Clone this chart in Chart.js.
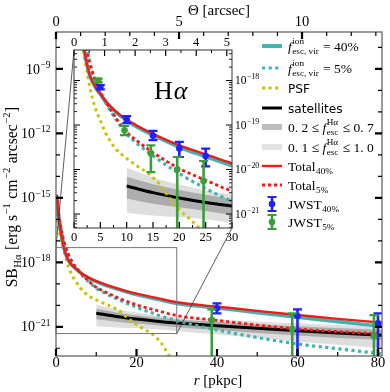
<!DOCTYPE html>
<html>
<head>
<meta charset="utf-8">
<script src="https://cdn.jsdelivr.net/npm/chart.js@4.4.1/dist/chart.umd.min.js"></script>
<style>
html,body{margin:0;padding:0;background:#fff;overflow:hidden;}
#wrap{position:relative;width:390px;height:392px;background:#fff;}
canvas{position:absolute;}
</style>
</head>
<body>
<div id="wrap">
<canvas id="mainCanvas" width="390" height="392"></canvas>
<canvas id="insetCanvas" width="200" height="220"></canvas>
</div>
<script>
// ---------------- data (SB in erg s^-1 cm^-2 arcsec^-2, r in pkpc) ----------------
const rGrid      = [0.15, 0.3, 0.6, 1, 1.5, 2, 2.5, 3, 4, 5, 6, 8, 10, 12, 15, 20, 25, 30, 40, 50, 60, 70, 81];
const sbTotal40  = [1.26e-15, 7.94e-16, 1.58e-16, 4.47e-17, 1.26e-17, 4.47e-18, 2.24e-18, 1.32e-18, 7.4e-19, 5.0e-19, 3.47e-19, 2.0e-19, 1.32e-19, 9.55e-20, 6.3e-20, 3.47e-20, 2.19e-20, 1.38e-20, 8.7e-21, 5.5e-21, 3.55e-21, 2.34e-21, 1.55e-21];
const sbTotal5   = [1.41e-15, 8.9e-16, 2.24e-16, 7.1e-17, 2.24e-17, 8.9e-18, 4.47e-18, 2.51e-18, 1.05e-18, 5.6e-19, 3.39e-19, 1.41e-19, 6.9e-20, 4.37e-20, 2.4e-20, 1.05e-20, 5.75e-21, 3.31e-21, 2.0e-21, 1.2e-21, 7.9e-22, 6.0e-22, 4.57e-22];
const sbEsc40    = [1.23e-15, 7.8e-16, 1.55e-16, 4.4e-17, 1.23e-17, 4.37e-18, 2.19e-18, 1.29e-18, 7.2e-19, 4.9e-19, 3.31e-19, 1.91e-19, 1.26e-19, 8.9e-20, 5.9e-20, 3.16e-20, 1.95e-20, 1.23e-20, 7.6e-21, 4.57e-21, 2.82e-21, 1.74e-21, 1.05e-21];
const sbEsc5     = [1.38e-15, 8.7e-16, 2.19e-16, 6.9e-17, 2.19e-17, 8.7e-18, 4.37e-18, 2.4e-18, 1.0e-18, 5.25e-19, 3.16e-19, 1.32e-19, 6.3e-20, 3.8e-20, 2.04e-20, 8.1e-21, 3.72e-21, 1.91e-21, 7.1e-22, 3.16e-22, 1.58e-22, 9.5e-23, 5.5e-23];

const psfR  = [0.15, 0.3, 0.6, 1, 1.5, 2, 2.5, 3, 4, 5, 6, 7, 8, 10, 12, 14, 16, 18, 20, 22, 24, 26, 28, 29];
const sbPSF = [2.0e-16, 1.0e-16, 3.98e-17, 1.78e-17, 7.1e-18, 3.16e-18, 1.51e-18, 7.1e-19, 2.51e-19, 1.26e-19, 6.6e-20, 4.17e-20, 2.82e-20, 1.78e-20, 1.2e-20, 8.3e-21, 5.0e-21, 2.4e-21, 1.26e-21, 7.6e-22, 4.47e-22, 1.91e-22, 5.0e-23, 2.51e-23];

const satR        = [10, 15, 20, 25, 30, 40, 50, 60, 70, 81];
const sbSat       = [4.27e-21, 3.02e-21, 2.29e-21, 1.82e-21, 1.51e-21, 1.12e-21, 8.5e-22, 6.6e-22, 5.1e-22, 4.07e-22];
const sbBand27Hi  = [6.9e-21, 4.68e-21, 3.47e-21, 2.69e-21, 2.19e-21, 1.7e-21, 1.32e-21, 1.07e-21, 8.7e-22, 7.1e-22];
const sbBand27Lo  = [2.24e-21, 1.7e-21, 1.41e-21, 1.17e-21, 9.5e-22, 7.1e-22, 5.1e-22, 3.89e-22, 3.02e-22, 2.4e-22];
const sbBand110Hi = [1.1e-20, 6.6e-21, 4.57e-21, 3.39e-21, 2.75e-21, 2.19e-21, 1.78e-21, 1.45e-21, 1.2e-21, 1.0e-21];
const sbBand110Lo = [1.07e-21, 9.3e-22, 8.5e-22, 7.6e-22, 6.3e-22, 4.37e-22, 3.02e-22, 2.09e-22, 1.45e-22, 1.0e-22];

// JWST mock points (inner radii shown in the inset, outer radii in the main panel)
const jwst40InR  = [5, 10, 15, 20, 25];
const jwst40InC  = [7.1e-19, 1.32e-19, 5.75e-20, 2.95e-20, 2.0e-20];
const jwst40InHi = [7.9e-19, 1.58e-19, 7.4e-20, 4.17e-20, 2.95e-20];
const jwst40InLo = [6.3e-19, 1.1e-19, 4.57e-20, 1.91e-20, 1.17e-20];
const jwst5InR   = [4.6, 9.6, 14.6, 19.6, 24.6];
const jwst5InC   = [1.0e-18, 7.6e-20, 2.29e-20, 1.0e-20, 5.5e-21];
const jwst5InHi  = [1.1e-18, 9.5e-20, 3.47e-20, 1.91e-20, 1.55e-20];
const jwst5InLo  = [9.1e-19, 5.9e-20, 8.7e-21, 1e-24, 1e-24];
const jwst40OutR  = [40, 60, 80];
const jwst40OutC  = [7.2e-21, 3.16e-21, 1.45e-21];
const jwst40OutHi = [1.23e-20, 6.5e-21, 4.17e-21];
const jwst40OutLo = [4.17e-21, 1e-24, 1e-24];
const jwst5OutR   = [38.7, 58.7, 79];
const jwst5OutC   = [2.04e-21, 7.6e-22, 3.72e-22];
const jwst5OutHi  = [6.5e-21, 4.17e-21, 3.47e-21];
const jwst5OutLo  = [1e-24, 1e-24, 1e-24];

// axes / tick labels
const mainRRange = [0, 81];
const mainThetaRange = [0, 13.25];
const mainSBRange = [Math.pow(10, -22.36), Math.pow(10, -7.28)];
const mainRTicks = [0, 20, 40, 60, 80];
const mainRMinor = [10, 30, 50, 70];
const mainThetaTicks = [0, 5, 10];
const mainThetaMinor = [1, 2, 3, 4, 6, 7, 8, 9, 11, 12, 13];
const mainSBTicks = [1e-9, 1e-12, 1e-15, 1e-18, 1e-21];
const mainSBMinor = [1e-8, 1e-10, 1e-11, 1e-13, 1e-14, 1e-16, 1e-17, 1e-19, 1e-20, 1e-22];

const insetRRange = [0, 30];
const insetThetaRange = [0, 5.17];
const insetSBRange = [Math.pow(10, -21.315), Math.pow(10, -17.315)];
const insetRTicks = [0, 5, 10, 15, 20, 25, 30];
const insetRMinor = [2.5, 7.5, 12.5, 17.5, 22.5, 27.5];
const insetThetaTicks = [0, 1, 2, 3, 4, 5];
const insetThetaMinor = [0.5, 1.5, 2.5, 3.5, 4.5];
const insetSBTicks = [1e-18, 1e-19, 1e-20, 1e-21];

// ---------------- styling ----------------
const SERIF = '"Liberation Serif", "Times New Roman", serif';
const SANS = '"DejaVu Sans", sans-serif';
const RED = '#f21a1a', CYAN = '#43b3b0', YEL = '#c8c400', BLUE = '#1f1fff', GREEN = '#3a9e3a';
const DARK = '#adadad', LIGHT = '#dedede';
const INSET_LEFT = 60, INSET_TOP = 30;

const insetCanvas = document.getElementById('insetCanvas');
insetCanvas.style.left = INSET_LEFT + 'px';
insetCanvas.style.top = INSET_TOP + 'px';

const insetSBMinor = [];
for (let e = -22; e <= -18; e++) for (let k = 2; k <= 9; k++) {
  const v = k * Math.pow(10, e);
  if (v > insetSBRange[0] && v < insetSBRange[1]) insetSBMinor.push(v);
}

function pts(xs, ys) { return xs.map((x, i) => ({x: x, y: ys[i]})); }
function expOf(v) { return String(Math.round(Math.log10(v))).replace('-', '\u2212'); }

function lineDatasets() {
  return [
    {data: pts(rGrid, sbTotal40), borderColor: RED, borderWidth: 2.4},
    {data: pts(rGrid, sbTotal5), borderColor: RED, borderWidth: 2.8, borderDash: [3.2, 2.8]},
    {data: pts(rGrid, sbEsc40), borderColor: CYAN, borderWidth: 3.6},
    {data: pts(rGrid, sbEsc5), borderColor: CYAN, borderWidth: 3.2, borderDash: [3.2, 3.4]},
    {data: pts(psfR, sbPSF), borderColor: YEL, borderWidth: 3, borderDash: [3, 3.6]},
    {data: pts(satR, sbSat), borderColor: '#000', borderWidth: 3},
    {data: pts(satR, sbBand27Hi), borderWidth: 0, borderColor: 'rgba(0,0,0,0)', backgroundColor: DARK, fill: '+1'},
    {data: pts(satR, sbBand27Lo), borderWidth: 0, borderColor: 'rgba(0,0,0,0)', fill: false},
    {data: pts(satR, sbBand110Hi), borderWidth: 0, borderColor: 'rgba(0,0,0,0)', backgroundColor: LIGHT, fill: '+1'},
    {data: pts(satR, sbBand110Lo), borderWidth: 0, borderColor: 'rgba(0,0,0,0)', fill: false}
  ].map(d => Object.assign({pointRadius: 0, cubicInterpolationMode: 'monotone', borderCapStyle: 'butt', fill: false}, d));
}

function ticksOn(ctx, a, scale, vals, side, len, lw) {
  ctx.save();
  ctx.lineWidth = lw; ctx.strokeStyle = '#000'; ctx.beginPath();
  for (const v of vals) {
    const p = scale.getPixelForValue(v);
    if (side === 'bottom') { ctx.moveTo(p, a.bottom); ctx.lineTo(p, a.bottom - len); }
    else if (side === 'top') { ctx.moveTo(p, a.top); ctx.lineTo(p, a.top + len); }
    else if (side === 'left') { ctx.moveTo(a.left, p); ctx.lineTo(a.left + len, p); }
    else { ctx.moveTo(a.right, p); ctx.lineTo(a.right - len, p); }
  }
  ctx.stroke();
  ctx.restore();
}

function errBars(chart, rs, cs, his, los, color) {
  const {ctx, chartArea: a, scales} = chart;
  const x = scales.x, y = scales.y;
  ctx.save();
  ctx.beginPath(); ctx.rect(a.left, a.top, a.right - a.left, a.bottom - a.top); ctx.clip();
  ctx.strokeStyle = color; ctx.fillStyle = color;
  for (let i = 0; i < rs.length; i++) {
    const px = x.getPixelForValue(rs[i]);
    const py = y.getPixelForValue(cs[i]);
    const ph = y.getPixelForValue(his[i]);
    const pl = y.getPixelForValue(los[i]);
    ctx.lineWidth = 2.6;
    ctx.beginPath(); ctx.moveTo(px, ph); ctx.lineTo(px, pl); ctx.stroke();
    ctx.lineWidth = 2.2;
    ctx.beginPath();
    ctx.moveTo(px - 4.5, ph); ctx.lineTo(px + 4.5, ph);
    ctx.moveTo(px - 4.5, pl); ctx.lineTo(px + 4.5, pl);
    ctx.stroke();
    ctx.beginPath(); ctx.arc(px, py, 3.3, 0, Math.PI * 2); ctx.fill();
  }
  ctx.restore();
}

function rich(ctx, x, y, parts, size, draw) {
  let cx = x;
  const small = size * 0.68;
  for (const p of parts) {
    if (p.ss) {
      ctx.font = small + 'px ' + SERIF;
      const w = Math.max(ctx.measureText(p.ss[0]).width, ctx.measureText(p.ss[1]).width);
      if (draw) { ctx.fillText(p.ss[0], cx + 0.5, y - size * 0.45); ctx.fillText(p.ss[1], cx + 0.5, y + size * 0.28); }
      cx += w + 1.5;
    } else if (p.sup != null) {
      ctx.font = small + 'px ' + SERIF;
      if (draw) ctx.fillText(p.sup, cx + 0.5, y - size * 0.42);
      cx += ctx.measureText(p.sup).width + 1;
    } else if (p.sub != null) {
      ctx.font = small + 'px ' + SERIF;
      if (draw) ctx.fillText(p.sub, cx + 0.5, y + size * 0.25);
      cx += ctx.measureText(p.sub).width + 1;
    } else {
      ctx.font = (p.it ? 'italic ' : '') + (p.sans ? size * 0.9 : size) + 'px ' + (p.sans ? SANS : SERIF);
      if (draw) ctx.fillText(p.t, cx, y);
      cx += ctx.measureText(p.t).width;
    }
  }
  return cx - x;
}

// log-axis labels "10^n" drawn at the positions given by the Chart.js scale
function logLabels(ctx, scale, vals, anchorX, align, size) {
  ctx.save();
  ctx.fillStyle = '#000';
  ctx.textBaseline = 'alphabetic';
  for (const v of vals) {
    const p = scale.getPixelForValue(v);
    const parts = [{t: '10'}, {sup: expOf(v)}];
    const w = rich(ctx, 0, 0, parts, size, false);
    const x0 = align === 'right' ? anchorX - w : anchorX;
    rich(ctx, x0, p + size * 0.33, parts, size, true);
  }
  ctx.restore();
}

const legendEntries = [
  {y: 46, s: {color: CYAN, w: 4}, parts: [{t: 'f', it: 1}, {ss: ['ion', 'esc, vir']}, {t: ' = 40%'}]},
  {y: 68, s: {color: CYAN, w: 3.2, dash: [3.2, 3.4]}, parts: [{t: 'f', it: 1}, {ss: ['ion', 'esc, vir']}, {t: ' = 5%'}]},
  {y: 88, s: {color: YEL, w: 3, dash: [3, 3.6]}, parts: [{t: 'PSF', sans: 1}]},
  {y: 108, s: {color: '#000', w: 3}, parts: [{t: 'satellites', sans: 1}]},
  {y: 127, s: {color: '#bdbdbd', w: 6}, parts: [{t: '0. 2 \u2264 '}, {t: 'f', it: 1}, {ss: ['H\u03B1', 'esc']}, {t: ' \u2264 0. 7'}]},
  {y: 147, s: {color: '#e3e3e3', w: 6}, parts: [{t: '0. 1 \u2264 '}, {t: 'f', it: 1}, {ss: ['H\u03B1', 'esc']}, {t: ' \u2264 1. 0'}]},
  {y: 166, s: {color: RED, w: 2.4}, parts: [{t: 'Total'}, {sub: '40%'}]},
  {y: 185, s: {color: RED, w: 2.8, dash: [3.2, 2.8]}, parts: [{t: 'Total'}, {sub: '5%'}]},
  {y: 204, s: {err: BLUE}, parts: [{t: 'JWST'}, {sub: '40%'}]},
  {y: 222, s: {err: GREEN}, parts: [{t: 'JWST'}, {sub: '5%'}]}
];

function drawLegend(ctx) {
  ctx.save();
  ctx.fillStyle = '#000';
  ctx.textBaseline = 'alphabetic';
  for (const e of legendEntries) {
    const s = e.s;
    if (s.err) {
      ctx.strokeStyle = s.err; ctx.fillStyle = s.err;
      ctx.lineWidth = 2.6;
      ctx.beginPath(); ctx.moveTo(272, e.y - 7); ctx.lineTo(272, e.y + 7); ctx.stroke();
      ctx.lineWidth = 2.2;
      ctx.beginPath(); ctx.moveTo(267.5, e.y - 7); ctx.lineTo(276.5, e.y - 7); ctx.moveTo(267.5, e.y + 7); ctx.lineTo(276.5, e.y + 7); ctx.stroke();
      ctx.beginPath(); ctx.arc(272, e.y, 3.3, 0, Math.PI * 2); ctx.fill();
    } else {
      ctx.strokeStyle = s.color; ctx.lineWidth = s.w; ctx.setLineDash(s.dash || []);
      ctx.beginPath(); ctx.moveTo(262, e.y); ctx.lineTo(282, e.y); ctx.stroke();
      ctx.setLineDash([]);
    }
    ctx.fillStyle = '#000';
    rich(ctx, 288, e.y + 4.5, e.parts, 13.5, true);
  }
  ctx.restore();
}

function drawTitles(ctx) {
  ctx.save();
  ctx.fillStyle = '#000';
  ctx.textBaseline = 'alphabetic';
  let parts = [{t: '\u0398 [arcsec]'}];
  let w = rich(ctx, 0, 0, parts, 15, false);
  rich(ctx, 219 - w / 2, 15, parts, 15, true);
  parts = [{t: 'r', it: 1}, {t: ' [pkpc]'}];
  w = rich(ctx, 0, 0, parts, 15, false);
  rich(ctx, 218 - w / 2, 385, parts, 15, true);
  parts = [{t: 'SB'}, {sub: 'H\u03B1'}, {t: ' [erg s'}, {sup: '\u22121'}, {t: ' cm'}, {sup: '\u22122'}, {t: ' arcsec'}, {sup: '\u22122'}, {t: ']'}];
  let size = 15;
  w = rich(ctx, 0, 0, parts, size, false);
  size = size * 181 / w;
  w = rich(ctx, 0, 0, parts, size, false);
  ctx.translate(17, 197);
  ctx.rotate(-Math.PI / 2);
  rich(ctx, -w / 2, 0, parts, size, true);
  ctx.restore();
}

// ---------------- inset chart ----------------
const insetDecor = {
  id: 'insetDecor',
  beforeDatasetsDraw(chart) {
    const {ctx, chartArea: a} = chart;
    ctx.save(); ctx.fillStyle = '#fff'; ctx.fillRect(a.left, a.top, a.right - a.left, a.bottom - a.top); ctx.restore();
  },
  afterDatasetsDraw(chart) {
    const {ctx, chartArea: a, scales} = chart;
    errBars(chart, jwst40InR, jwst40InC, jwst40InHi, jwst40InLo, BLUE);
    errBars(chart, jwst5InR, jwst5InC, jwst5InHi, jwst5InLo, GREEN);
    ctx.save();
    ctx.fillStyle = '#000';
    ctx.font = '26px ' + SERIF;
    ctx.fillText('H', 94, 69);
    const wH = ctx.measureText('H').width;
    ctx.font = 'italic 26px ' + SERIF;
    ctx.fillText('\u03B1', 94 + wH + 1, 69);
    ctx.restore();
    ticksOn(ctx, a, scales.x, insetRTicks, 'bottom', 6, 1.2);
    ticksOn(ctx, a, scales.x, insetRMinor, 'bottom', 3, 1);
    ticksOn(ctx, a, scales.x2, insetThetaTicks, 'top', 6, 1.2);
    ticksOn(ctx, a, scales.x2, insetThetaMinor, 'top', 3, 1);
    ticksOn(ctx, a, scales.y, insetSBTicks, 'left', 6, 1.2);
    ticksOn(ctx, a, scales.y, insetSBMinor, 'left', 3, 0.9);
    ticksOn(ctx, a, scales.y, insetSBTicks, 'right', 6, 1.2);
    ticksOn(ctx, a, scales.y, insetSBMinor, 'right', 3, 0.9);
    ctx.save(); ctx.strokeStyle = '#333'; ctx.lineWidth = 1;
    ctx.strokeRect(a.left, a.top, a.right - a.left, a.bottom - a.top); ctx.restore();
    logLabels(ctx, scales.y, insetSBTicks, a.right + 3, 'left', 11.5);
  }
};

function axisTicks(vals) { return s => { s.ticks = vals.map(v => ({value: v})); }; }
const noGrid = {display: false, drawTicks: false, tickLength: 0};

const insetChart = new Chart(insetCanvas, {
  type: 'line',
  data: {datasets: lineDatasets()},
  options: {
    responsive: false, animation: false, devicePixelRatio: 1, events: [],
    layout: {padding: {left: 14, right: 0, top: 0, bottom: 0}},
    plugins: {legend: {display: false}, tooltip: {enabled: false}},
    scales: {
      x: {type: 'linear', position: 'bottom', min: insetRRange[0], max: insetRRange[1],
          grid: noGrid, border: {display: false},
          ticks: {color: '#000', font: {family: SERIF, size: 12.5, lineHeight: 1}, padding: 3, maxRotation: 0, autoSkip: false},
          afterBuildTicks: axisTicks(insetRTicks), afterFit: s => { s.height = 22; }},
      x2: {type: 'linear', position: 'top', min: insetThetaRange[0], max: insetThetaRange[1],
          grid: noGrid, border: {display: false},
          ticks: {color: '#000', font: {family: SERIF, size: 12.5, lineHeight: 1}, padding: 1.5, maxRotation: 0, autoSkip: false},
          afterBuildTicks: axisTicks(insetThetaTicks), afterFit: s => { s.height = 20; }},
      y: {type: 'logarithmic', position: 'right', min: insetSBRange[0], max: insetSBRange[1],
          grid: noGrid, border: {display: false},
          ticks: {display: false},
          afterBuildTicks: axisTicks(insetSBTicks), afterFit: s => { s.width = 28; }}
    }
  },
  plugins: [insetDecor]
});

// ---------------- main chart ----------------
const mainDecor = {
  id: 'mainDecor',
  afterDatasetsDraw(chart) {
    const {ctx, chartArea: a, scales} = chart;
    const x = scales.x, y = scales.y;
    const bx0 = x.getPixelForValue(insetRRange[0]), bx1 = x.getPixelForValue(insetRRange[1]);
    const byTop = y.getPixelForValue(insetSBRange[1]), byBot = y.getPixelForValue(insetSBRange[0]);
    ctx.save();
    ctx.strokeStyle = '#777'; ctx.lineWidth = 1;
    ctx.strokeRect(bx0, byTop, bx1 - bx0, byBot - byTop);
    const ia = insetChart.chartArea;
    ctx.strokeStyle = '#333'; ctx.lineWidth = 0.8;
    ctx.beginPath();
    ctx.moveTo(bx0, byTop); ctx.lineTo(ia.left + INSET_LEFT, ia.top + INSET_TOP);
    ctx.moveTo(bx1, byBot); ctx.lineTo(ia.right + INSET_LEFT, ia.bottom + INSET_TOP);
    ctx.stroke();
    ctx.restore();
    errBars(chart, jwst40OutR, jwst40OutC, jwst40OutHi, jwst40OutLo, BLUE);
    errBars(chart, jwst5OutR, jwst5OutC, jwst5OutHi, jwst5OutLo, GREEN);
    ctx.save(); ctx.strokeStyle = '#666'; ctx.lineWidth = 1.3;
    ctx.strokeRect(a.left, a.top, a.right - a.left, a.bottom - a.top); ctx.restore();
    ticksOn(ctx, a, x, mainRTicks, 'bottom', 7, 2.2);
    ticksOn(ctx, a, x, mainRMinor, 'bottom', 4, 1.2);
    ticksOn(ctx, a, scales.x2, mainThetaTicks, 'top', 7, 2.2);
    ticksOn(ctx, a, scales.x2, mainThetaMinor, 'top', 4, 1.2);
    ticksOn(ctx, a, y, mainSBTicks, 'left', 7, 2.2);
    ticksOn(ctx, a, y, mainSBMinor, 'left', 4, 1.2);
    ticksOn(ctx, a, y, mainSBTicks, 'right', 7, 2.2);
    ticksOn(ctx, a, y, mainSBMinor, 'right', 4, 1.2);
    logLabels(ctx, y, mainSBTicks, a.left - 5, 'right', 14);
  },
  afterDraw(chart) {
    drawLegend(chart.ctx);
    drawTitles(chart.ctx);
  }
};

const mainChart = new Chart(document.getElementById('mainCanvas'), {
  type: 'line',
  data: {datasets: lineDatasets()},
  options: {
    responsive: false, animation: false, devicePixelRatio: 1, events: [],
    layout: {padding: {left: 0, right: 8, top: 0, bottom: 0}},
    plugins: {legend: {display: false}, tooltip: {enabled: false}},
    scales: {
      x: {type: 'linear', position: 'bottom', min: mainRRange[0], max: mainRRange[1],
          grid: noGrid, border: {display: false},
          ticks: {color: '#000', font: {family: SERIF, size: 14.5, lineHeight: 1}, padding: 0, maxRotation: 0, autoSkip: false},
          afterBuildTicks: axisTicks(mainRTicks), afterFit: s => { s.height = 36; }},
      x2: {type: 'linear', position: 'top', min: mainThetaRange[0], max: mainThetaRange[1],
          grid: noGrid, border: {display: false},
          ticks: {color: '#000', font: {family: SERIF, size: 14.5, lineHeight: 1}, padding: 3, maxRotation: 0, autoSkip: false},
          afterBuildTicks: axisTicks(mainThetaTicks), afterFit: s => { s.height = 32; }},
      y: {type: 'logarithmic', position: 'left', min: mainSBRange[0], max: mainSBRange[1],
          grid: noGrid, border: {display: false},
          ticks: {display: false},
          afterBuildTicks: axisTicks(mainSBTicks), afterFit: s => { s.width = 56; }}
    }
  },
  plugins: [mainDecor]
});
</script>
</body>
</html>
